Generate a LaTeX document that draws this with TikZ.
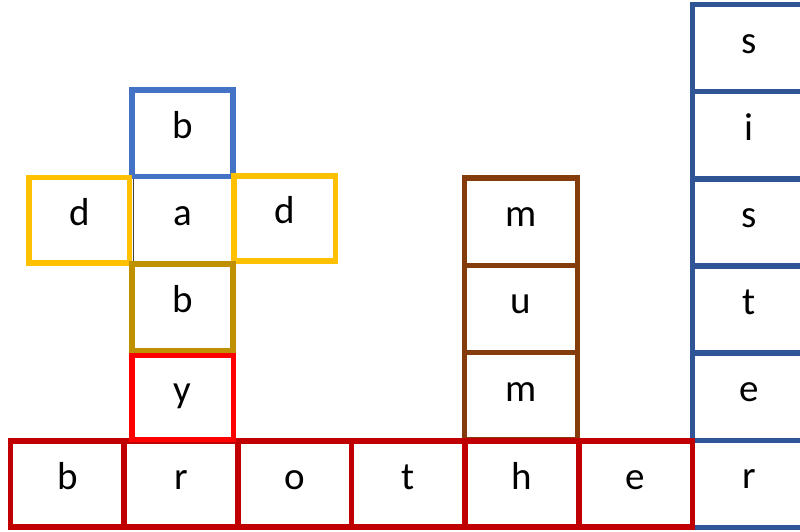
\documentclass[tikz,border=0pt]{standalone}
\usepackage{fontspec}
\setmainfont{Carlito}
\definecolor{bluelight}{HTML}{4472C4}
\definecolor{bluedark}{HTML}{2F5597}
\definecolor{yellowc}{HTML}{FFC000}
\definecolor{goldc}{HTML}{BF9000}
\definecolor{redbright}{HTML}{FF0000}
\definecolor{reddark}{HTML}{C00000}
\definecolor{brownc}{HTML}{843C0C}
\definecolor{grayc}{HTML}{404040}
\tikzset{
  cell/.style 2 args={draw=#1, line width=5.5pt, rectangle, inner sep=0pt,
    minimum width=#2, text height=20pt, text depth=10pt,
    font=\fontsize{39}{46}\selectfont, text=black},
  rowcell/.style={cell={reddark}{113.67pt}, minimum height=86pt},
  colcell/.style={cell={bluedark}{113.5pt}, minimum height=87.17pt},
  mumcell/.style={cell={brownc}{113pt}, minimum height=87.3pt},
}
\begin{document}
\begin{tikzpicture}[x=1pt,y=-1pt]
\clip (0,0) rectangle (800,531);
\fill[white] (0,0) rectangle (800,531);
% centre cell "a"
\node[cell={grayc}{99pt}, line width=1pt, minimum height=87.5pt] (a) at (182.5,220) {a};
% top b
\node[cell={bluelight}{101pt}, minimum height=86.5pt] (btop) at (182.5,133.25) {b};
% d boxes
\node[cell={yellowc}{100.5pt}, minimum height=85.5pt] (dl) at (79.25,220.25) {d};
\node[cell={yellowc}{101.5pt}, minimum height=85pt] (dr) at (284.75,218.5) {d};
% lower b
\node[cell={goldc}{101pt}, minimum height=87pt] (bmid) at (182.5,307.5) {b};
% blue column sister
\node[colcell] (s1) at (749.25,48.1) {s};
\node[colcell] (i1) at (749.25,135.25) {i};
\node[colcell] (s2) at (749.25,222.4) {s};
\node[colcell] (t2) at (749.25,309.6) {t};
\node[colcell] (e2) at (749.25,396.75) {e};
\node[colcell] (r2) at (749.25,483.9) {r};
% brown column mum
\node[mumcell] (m1) at (521,221.6) {m};
\node[mumcell] (u1) at (521,308.9) {u};
\node[mumcell] (m2) at (521,396.2) {m};
% brother row
\node[rowcell] (rb) at (67.33,484) {b};
\node[rowcell] (rr) at (181,484) {r};
\node[rowcell] (ro) at (294.67,484) {o};
\node[rowcell] (rt) at (408.33,484) {t};
\node[rowcell] (rh) at (522,484) {h};
\node[rowcell] (re) at (635.67,484) {e};
% y box
\node[cell={redbright}{101.5pt}, minimum height=84pt] (y) at (182.75,397.5) {y};
\end{tikzpicture}
\end{document}
